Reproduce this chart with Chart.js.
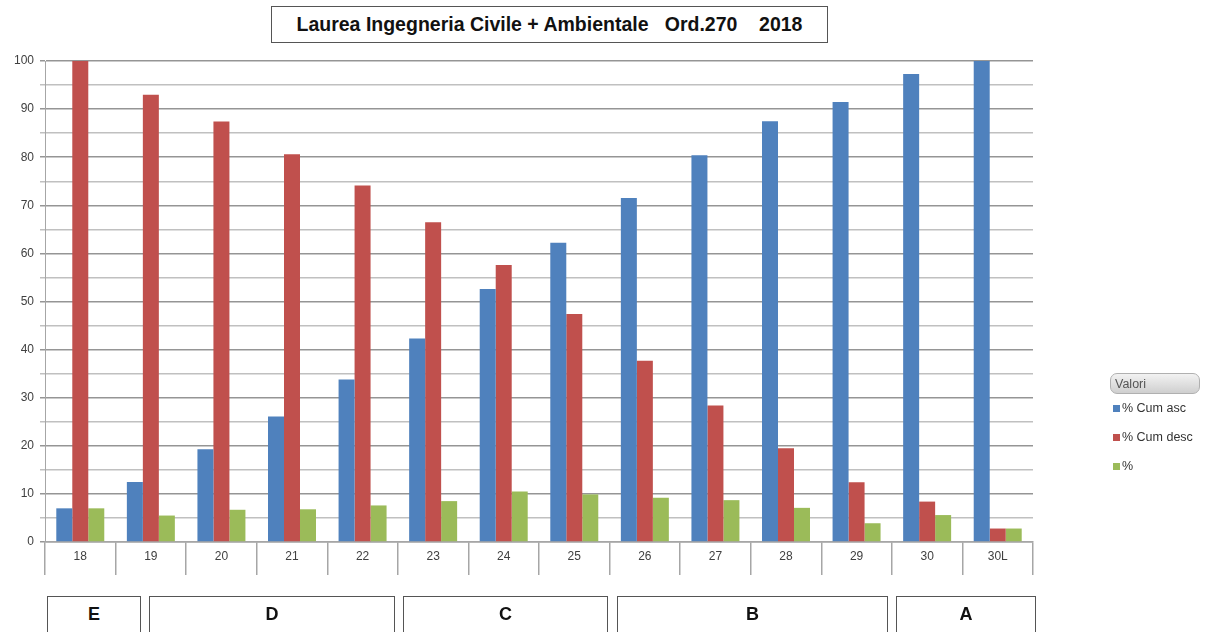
<!DOCTYPE html>
<html>
<head>
<meta charset="utf-8">
<script src="https://cdn.jsdelivr.net/npm/chart.js@4"></script>
<style>
  body { margin: 0; background: #fff; width: 1207px; height: 632px; overflow: hidden; position: relative; font-family: "Liberation Sans", Arial, sans-serif; }
  #wrap { position: absolute; left: 0; top: 0; width: 1207px; height: 632px; }
  .box { position: absolute; border: 1px solid #555; background: #fff; font-weight: bold; font-size: 18px; color: #111; text-align: center; white-space: pre; box-sizing: border-box; }
  #title { left: 271px; top: 6px; width: 557px; height: 37px; line-height: 35px; font-size: 19.5px; }
  .grade { top: 596px; height: 40px; line-height: 34px; }
  #legend { position: absolute; left: 1110px; top: 373px; font-size: 12.5px; color: #333; }
  #legend .head { width: 90px; height: 21px; line-height: 21px; padding-left: 4px; box-sizing: border-box; border: 1px solid #b0b0b0; border-radius: 7px; background: linear-gradient(#f2f2f2, #cfcfcf); color: #555; }
  #legend .item { position: relative; height: 29px; line-height: 29px; padding-left: 12px; }
  #legend .item span { position: absolute; left: 3px; top: 11px; width: 7px; height: 7px; }
</style>
</head>
<body>
<div id="wrap"><canvas id="myChart"></canvas></div>
<div id="title" class="box">Laurea Ingegneria Civile + Ambientale   Ord.270    2018</div>
<div class="box grade" style="left:47px;width:94px">E</div>
<div class="box grade" style="left:149px;width:246px">D</div>
<div class="box grade" style="left:403px;width:205px">C</div>
<div class="box grade" style="left:617px;width:271px">B</div>
<div class="box grade" style="left:896px;width:140px">A</div>
<div id="legend"></div>
<script>
const labels = ["18", "19", "20", "21", "22", "23", "24", "25", "26", "27", "28", "29", "30", "30L"];
const cumAsc = [7, 12.5, 19.3, 26.1, 33.8, 42.3, 52.6, 62.2, 71.5, 80.4, 87.5, 91.5, 97.3, 100];
const cumDesc = [100, 93, 87.4, 80.6, 74.1, 66.5, 57.6, 47.4, 37.7, 28.4, 19.5, 12.4, 8.4, 2.8];
const perc = [7, 5.5, 6.7, 6.8, 7.6, 8.5, 10.5, 9.9, 9.2, 8.7, 7.1, 3.9, 5.6, 2.8];

const seriesNames = ["% Cum asc", "% Cum desc", "%"];
const colors = ["#4f81bd", "#c0504d", "#9bbb59"];

const ctx = document.getElementById("myChart");

let data = {
  labels: labels,
  datasets: [cumAsc, cumDesc, perc].map((vals, i) => ({
    label: seriesNames[i],
    data: vals,
    backgroundColor: colors[i],
    borderWidth: 0,
    barPercentage: 1,
    categoryPercentage: 0.68,
  })),
};

let graphic = new Chart(ctx, {
  type: "bar",
  data: data,
  options: {
    responsive: true,
    maintainAspectRatio: false,
    animation: false,
    layout: { padding: { top: 61, bottom: 50, left: 0, right: 174 } },
    plugins: {
      legend: { display: false },
      tooltip: { enabled: false },
    },
    scales: {
      x: {
        afterFit: (s) => { s.height = 40; },
        grid: {
          offset: true,
          drawOnChartArea: false,
          tickLength: 33,
          color: "#a6a6a6",
          lineWidth: 1.5,
        },
        border: { color: "#a6a6a6", width: 1.5 },
        ticks: {
          padding: -26,
          color: "#404040",
          font: { family: "Liberation Sans", size: 12 },
          maxRotation: 0,
        },
      },
      y: {
        min: 0,
        max: 100,
        afterFit: (s) => { s.width = 45; },
        grid: {
          tickLength: 5,
          lineWidth: 1.5,
          color: (c) => (c.tick && c.tick.value % 10 === 0 ? "#959595" : "#c0c0c0"),
        },
        border: { color: "#a6a6a6", width: 1 },
        ticks: {
          stepSize: 5,
          padding: 6,
          color: "#404040",
          font: { family: "Liberation Sans", size: 12 },
          callback: (v) => (v % 10 === 0 ? v : ""),
        },
      },
    },
  },
});

// legend beside the chart
let legend = document.getElementById("legend");
let head = document.createElement("div");
head.className = "head";
head.innerText = "Valori";
legend.appendChild(head);
seriesNames.forEach((name, i) => {
  let row = document.createElement("div");
  row.className = "item";
  let sw = document.createElement("span");
  sw.style.background = colors[i];
  row.appendChild(sw);
  row.appendChild(document.createTextNode(name));
  legend.appendChild(row);
});
</script>
</body>
</html>
